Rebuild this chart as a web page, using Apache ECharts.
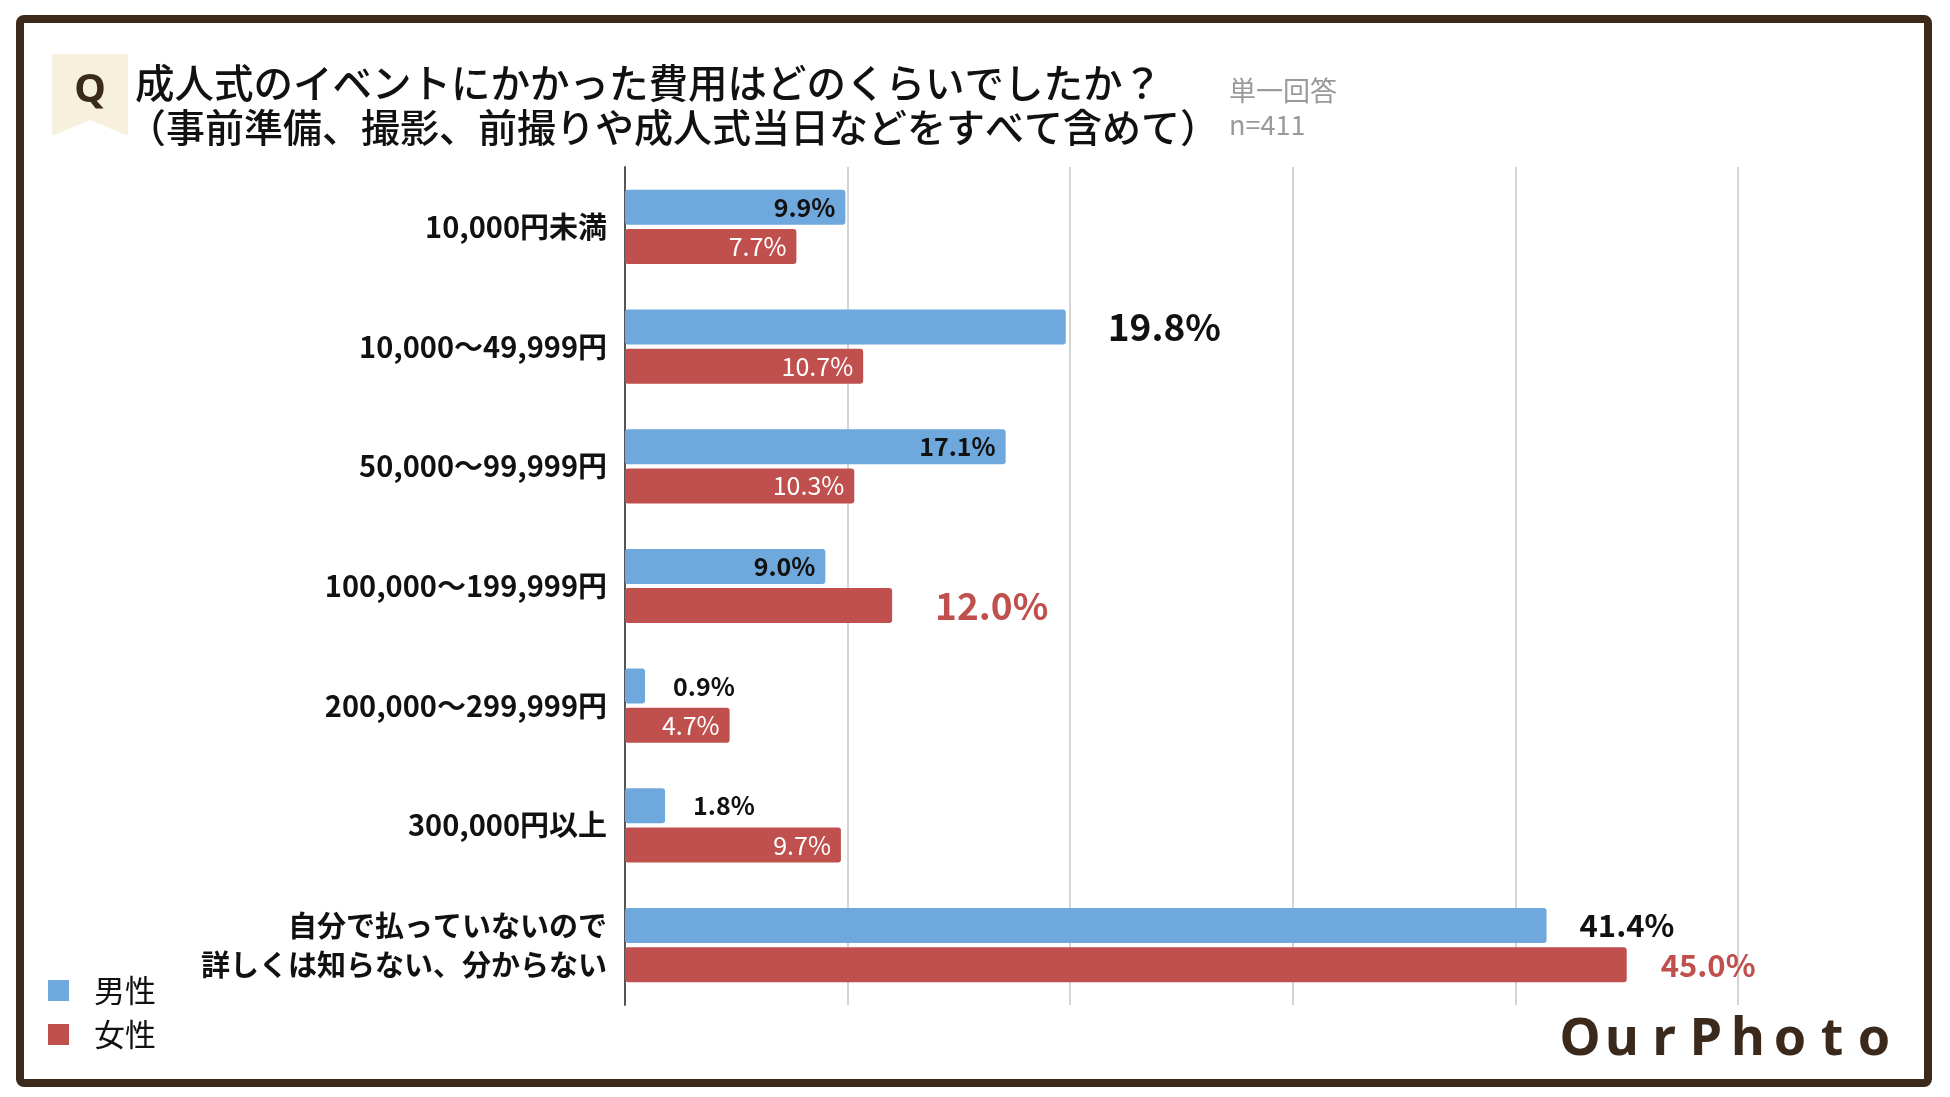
<!DOCTYPE html>
<html>
<head>
<meta charset="utf-8">
<script src="https://cdn.jsdelivr.net/npm/echarts@6/dist/echarts.min.js"></script>
<style>
  html, body { margin: 0; padding: 0; background: #fff; }
  #chart { width: 1950px; height: 1097px; }
</style>
</head>
<body>
<div id="chart"></div>
<script>
// 成人式の費用（男女別）
var categories = [
  '10,000円未満',
  '10,000〜49,999円',
  '50,000〜99,999円',
  '100,000〜199,999円',
  '200,000〜299,999円',
  '300,000円以上',
  '自分で払っていないので\n詳しくは知らない、分からない'
];
var maleValues = [9.9, 19.8, 17.1, 9.0, 0.9, 1.8, 41.4];
var femaleValues = [7.7, 10.7, 10.3, 12.0, 4.7, 9.7, 45.0];
var seriesNames = ['男性', '女性'];
var xTicks = [0, 10, 20, 30, 40, 50];

var BLUE = '#6fa8dc';
var RED = '#c0504d';
var BROWN = '#3b2a1b';
var FONT = '"Noto Sans CJK JP", "Noto Sans", sans-serif';

var pct = function (p) { return p.value.toFixed(1) + '%'; };

// ラベルの見た目: 棒の中 / 棒の外 / 強調
var insideLabel = function (color, weight) {
  return { show: true, position: 'insideRight', distance: 10, color: color,
    fontWeight: weight, fontSize: 25, fontFamily: FONT, formatter: pct };
};
var outsideLabel = function (color, size, dist) {
  return { show: true, position: 'right', distance: dist, color: color,
    fontWeight: 'bold', fontSize: size, fontFamily: FONT, formatter: pct };
};

var maleLabels = [
  insideLabel('#111', 'bold'),
  outsideLabel('#111', 37, 42),
  insideLabel('#111', 'bold'),
  insideLabel('#111', 'bold'),
  outsideLabel('#111', 25, 28),
  outsideLabel('#111', 25, 28),
  outsideLabel('#111', 31, 33)
];
var femaleLabels = [
  insideLabel('#fff', 'normal'),
  insideLabel('#fff', 'normal'),
  insideLabel('#fff', 'normal'),
  outsideLabel(RED, 37, 43),
  insideLabel('#fff', 'normal'),
  insideLabel('#fff', 'normal'),
  outsideLabel(RED, 31, 34)
];

function withLabels(values, labels) {
  return values.map(function (v, i) {
    return { value: v, label: labels[i] };
  });
}

// 「Q」のリボン
var qRibbon = {
  type: 'polygon',
  shape: { points: [[52, 54], [128, 54], [128, 136], [90, 120], [52, 136]] },
  style: { fill: '#f6f0dc' }
};

// ロゴ（1文字ずつ間隔を空ける）
var logoLetters = 'OurPhoto'.split('').map(function (ch, i) {
  return {
    type: 'text',
    x: 1580 + i * 42,
    y: 1040,
    style: { text: ch, fill: BROWN, font: 'bold 52px "Noto Sans", sans-serif',
      align: 'center', verticalAlign: 'middle' }
  };
});

var titleStyle = function (size) {
  return { fontFamily: FONT, fontSize: size, fontWeight: 500, color: '#111' };
};

var chart = echarts.init(document.getElementById('chart'));
chart.setOption({
  backgroundColor: '#fff',
  animation: false,
  title: [{
    text: '成人式のイベントにかかった費用はどのくらいでしたか？',
    left: 135,
    top: 63,
    padding: 0,
    textStyle: titleStyle(39.5)
  }, {
    text: '（事前準備、撮影、前撮りや成人式当日などをすべて含めて）',
    left: 127,
    top: 108,
    padding: 0,
    textStyle: titleStyle(39)
  }, {
    text: '単一回答\nn=411',
    left: 1229,
    top: 74,
    padding: 0,
    textStyle: { fontFamily: FONT, fontSize: 27, fontWeight: 'normal', color: '#9a9a9a', lineHeight: 34 }
  }],
  legend: {
    orient: 'vertical',
    left: 48,
    top: 975,
    padding: 0,
    icon: 'rect',
    itemWidth: 21,
    itemHeight: 21,
    itemGap: 13,
    data: seriesNames,
    textStyle: { fontFamily: FONT, fontSize: 31, color: '#111', padding: [0, 0, 0, 20] }
  },
  grid: { left: 625, right: 212, top: 167, bottom: 92, containLabel: false },
  xAxis: {
    type: 'value',
    min: xTicks[0],
    max: xTicks[xTicks.length - 1],
    interval: xTicks[1] - xTicks[0],
    axisLabel: { show: false },
    axisLine: { show: false },
    axisTick: { show: false },
    splitLine: { lineStyle: { color: '#d4d4d4', width: 2 } }
  },
  yAxis: {
    type: 'category',
    inverse: true,
    data: categories,
    axisTick: { show: false },
    axisLine: { lineStyle: { color: '#555', width: 2 } },
    axisLabel: { fontFamily: FONT, fontSize: 29, fontWeight: 'bold', color: '#111',
      margin: 18, lineHeight: 39, align: 'right' }
  },
  series: [{
    name: seriesNames[0],
    type: 'bar',
    barWidth: 35,
    barGap: '12%',
    itemStyle: { color: BLUE, borderRadius: 3 },
    data: withLabels(maleValues, maleLabels)
  }, {
    name: seriesNames[1],
    type: 'bar',
    barWidth: 35,
    itemStyle: { color: RED, borderRadius: 3 },
    data: withLabels(femaleValues, femaleLabels)
  }],
  graphic: [
    {
      type: 'rect',
      shape: { x: 20, y: 19, width: 1908, height: 1064, r: 4 },
      style: { fill: 'none', stroke: BROWN, lineWidth: 8 }
    },
    qRibbon,
    {
      type: 'text',
      x: 90, y: 91,
      style: { text: 'Q', fill: BROWN, font: 'bold 40px "Noto Sans", sans-serif',
        align: 'center', verticalAlign: 'middle' }
    }
  ].concat(logoLetters)
});
</script>
</body>
</html>
